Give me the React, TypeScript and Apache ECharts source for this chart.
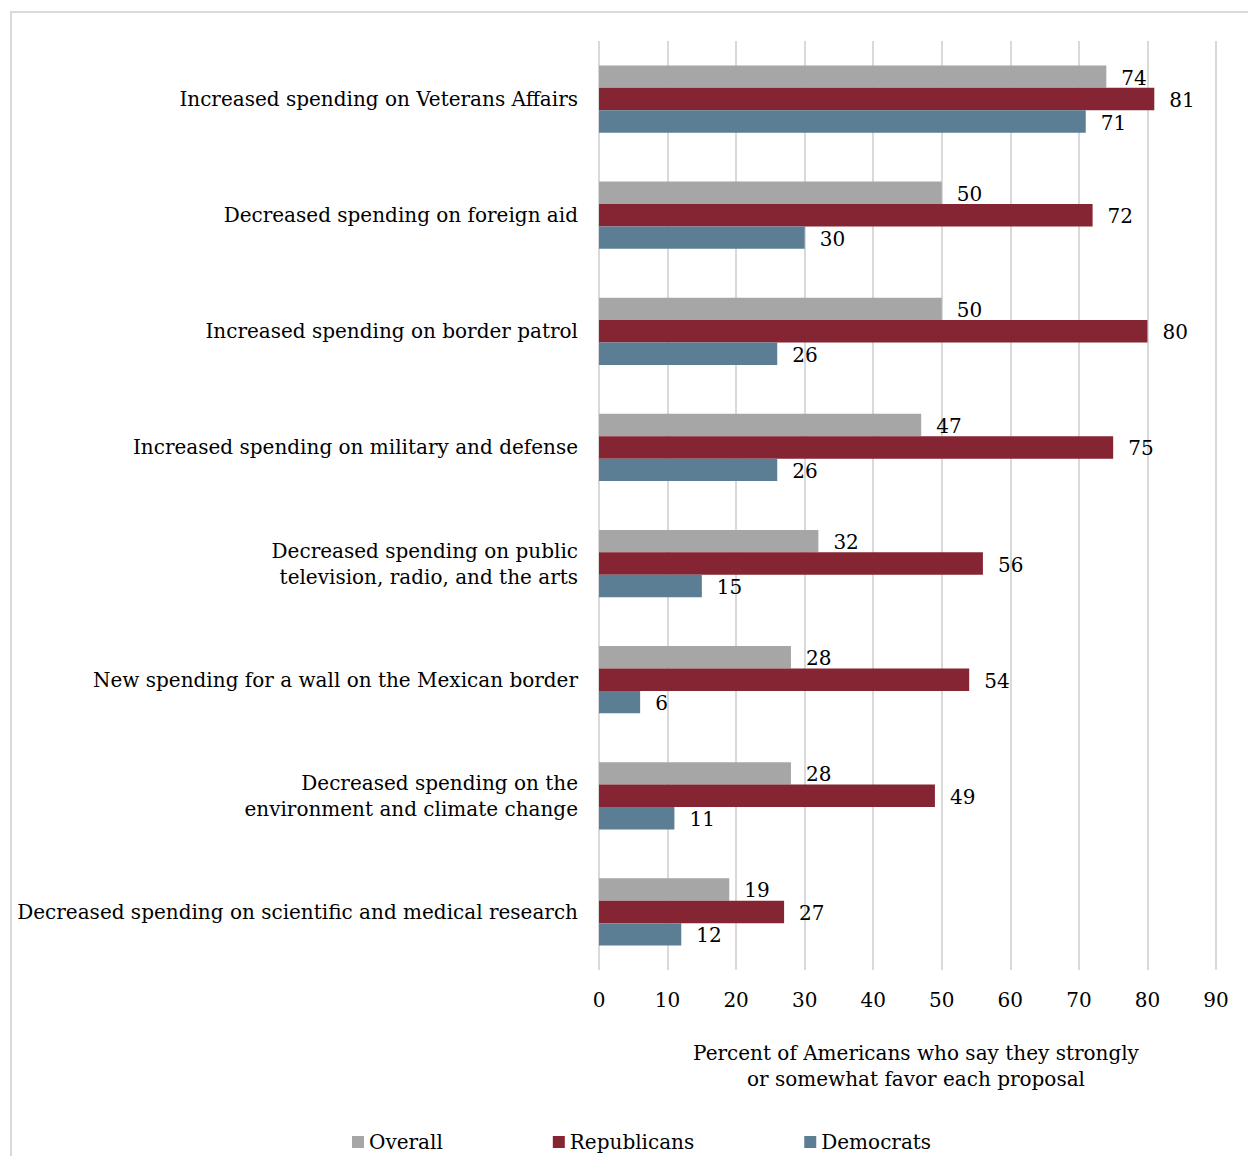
import React, { useEffect, useRef } from "react";
import * as echarts from "echarts";

const categories = [
  "Increased spending on Veterans Affairs",
  "Decreased spending on foreign aid",
  "Increased spending on border patrol",
  "Increased spending on military and defense",
  "Decreased spending on public\ntelevision, radio, and the arts",
  "New spending for a wall on the Mexican border",
  "Decreased spending on the\nenvironment and climate change",
  "Decreased spending on scientific and medical research",
];
const overall = [74, 50, 50, 47, 32, 28, 28, 19];
const republicans = [81, 72, 80, 75, 56, 54, 49, 27];
const democrats = [71, 30, 26, 26, 15, 6, 11, 12];
const xTicks = [0, 10, 20, 30, 40, 50, 60, 70, 80, 90];
const axisTitle = "Percent of Americans who say they strongly\nor somewhat favor each proposal";

const FONT = "'DejaVu Serif', serif";

export default function App() {
  const ref = useRef<HTMLDivElement>(null);
  useEffect(() => {
    if (!ref.current) return;
    const chart = echarts.init(ref.current, null, { renderer: "svg" });
    const label = {
      show: true,
      position: "right" as const,
      distance: 15,
      fontSize: 20,
      fontFamily: FONT,
      color: "#000",
      offset: [0, 1],
    };
    const mk = (name: string, data: number[], color: string) => ({
      name,
      type: "bar",
      data,
      barGap: "0%",
      barCategoryGap: "42%",
      itemStyle: { color },
      label,
    });
    chart.setOption({
      animation: false,
      textStyle: { fontFamily: FONT },
      grid: { left: 599, right: 32, top: 41, bottom: 186, containLabel: false },
      xAxis: {
        type: "value",
        min: xTicks[0],
        max: xTicks[xTicks.length - 1],
        interval: 10,
        axisLine: { show: false },
        axisTick: { show: false },
        splitLine: { show: true, lineStyle: { color: "#d9d9d9", width: 2 } },
        axisLabel: { fontSize: 20, fontFamily: FONT, color: "#000", margin: 20 },
      },
      yAxis: {
        type: "category",
        data: categories,
        inverse: true,
        axisLine: { show: false },
        axisTick: { show: false },
        axisLabel: {
          fontSize: 20,
          fontFamily: FONT,
          color: "#000",
          margin: 21,
          lineHeight: 26,
        },
      },
      legend: {
        left: 347,
        top: 1127,
        itemWidth: 12,
        itemHeight: 12,
        itemGap: 110,
        icon: "rect",
        textStyle: { fontSize: 20, fontFamily: FONT, color: "#000" },
        data: ["Overall", "Republicans", "Democrats"],
      },
      graphic: [
        {
          type: "rect",
          silent: true,
          shape: { x: 11, y: 12, width: 1300, height: 1300 },
          style: { fill: "none", stroke: "#d9d9d9", lineWidth: 2 },
        },
        {
          type: "text",
          x: 916,
          y: 1040,
          style: {
            text: axisTitle,
            fontSize: 20,
            fontFamily: FONT,
            fill: "#000",
            textAlign: "center",
            lineHeight: 26,
          },
        },
      ],
      series: [
        mk("Overall", overall, "#a6a6a6"),
        mk("Republicans", republicans, "#852533"),
        mk("Democrats", democrats, "#5b7e95"),
      ],
    });
    return () => chart.dispose();
  }, []);
  return (
    <div
      ref={ref}
      style={{ position: "absolute", left: 0, top: 0, width: 1248, height: 1156 }}
    />
  );
}
